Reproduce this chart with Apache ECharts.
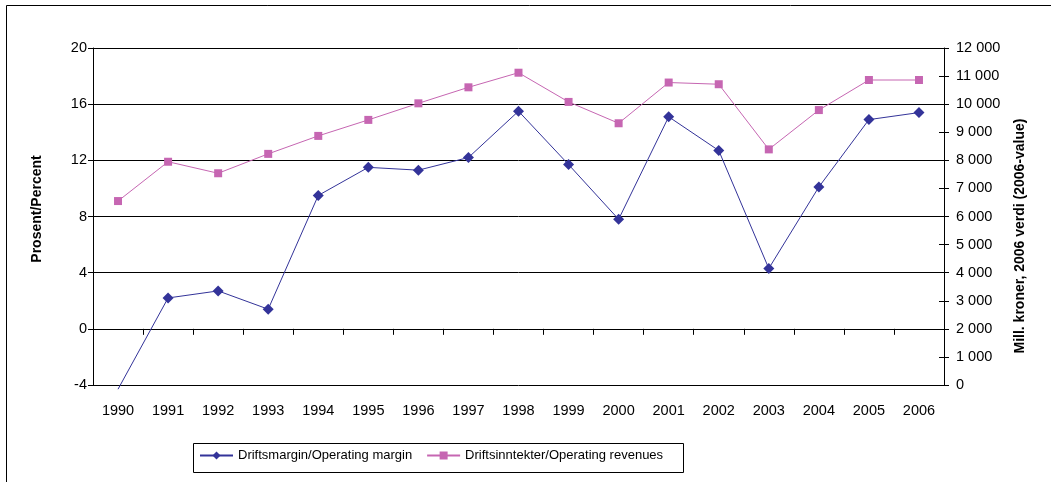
<!DOCTYPE html>
<html>
<head>
<meta charset="utf-8">
<script src="https://cdn.jsdelivr.net/npm/echarts@6/dist/echarts.min.js"></script>
<style>
html,body{margin:0;padding:0;background:#fff;}
#c{width:1051px;height:482px;}
</style>
</head>
<body>
<div id="c"></div>
<script>
var years = ['1990','1991','1992','1993','1994','1995','1996','1997','1998','1999','2000','2001','2002','2003','2004','2005','2006'];
var operatingMargin = [-4.3, 2.2, 2.7, 1.4, 9.5, 11.5, 11.3, 12.2, 15.5, 11.7, 7.8, 15.1, 12.7, 4.3, 10.1, 14.9, 15.4];
var operatingRevenues = [6550, 7950, 7540, 8230, 8870, 9440, 10030, 10600, 11120, 10080, 9320, 10770, 10710, 8390, 9790, 10860, 10860];
var leftTicks = [-4, 0, 4, 8, 12, 16, 20];
var rightTicks = [0, 1000, 2000, 3000, 4000, 5000, 6000, 7000, 8000, 9000, 10000, 11000, 12000];
var seriesNames = ['Driftsmargin/Operating margin', 'Driftsinntekter/Operating revenues'];
var axisNames = ['Prosent/Percent', 'Mill. kroner, 2006 verdi (2006-value)'];

var FONT = '"Liberation Sans", Arial, sans-serif';
var BLUE = '#333399';
var PINK = '#C666B2';
var TICK_FS = 14.5;

function fmtThousands(v) {
  return String(v).replace(/\B(?=(\d{3})+(?!\d))/g, ' ');
}

var marginData = operatingMargin.map(function (v) {
  return v < leftTicks[0] ? { value: v, symbol: 'none' } : v;
});

var chart = echarts.init(document.getElementById('c'), null, { renderer: 'canvas' });
chart.setOption({
  animation: false,
  backgroundColor: '#fff',
  textStyle: { fontFamily: FONT, color: '#000' },
  grid: { left: 93, right: 107, top: 48, bottom: 97, containLabel: false },
  legend: {
    left: 199, top: 449,
    itemWidth: 33, itemHeight: 10, itemGap: 14,
    padding: 0,
    textStyle: { fontFamily: FONT, fontSize: 13, color: '#000' },
    data: seriesNames
  },
  graphic: [
    { type: 'rect', shape: { x: 6.5, y: 5.5, width: 1100, height: 600 }, style: { fill: 'none', stroke: '#000', lineWidth: 1 }, silent: true, z: -1 },
    { type: 'rect', shape: { x: 193.5, y: 443.5, width: 490, height: 29 }, style: { fill: 'none', stroke: '#000', lineWidth: 1 }, silent: true },
    { type: 'text', x: 37, y: 209, rotation: Math.PI / 2, style: { text: axisNames[0], font: 'bold 14px ' + FONT, fill: '#000', align: 'center', verticalAlign: 'middle' } },
    { type: 'text', x: 1020, y: 236, rotation: Math.PI / 2, style: { text: axisNames[1], font: 'bold 14px ' + FONT, fill: '#000', align: 'center', verticalAlign: 'middle' } }
  ],
  xAxis: [
    {
      type: 'category', data: years, position: 'bottom', boundaryGap: true,
      axisLine: { show: false, onZero: false },
      axisTick: { show: false },
      axisLabel: { fontSize: TICK_FS, color: '#000', margin: 18, fontFamily: FONT, interval: 0 },
      splitLine: { show: false }
    },
    {
      type: 'category', data: years, position: 'bottom', boundaryGap: true,
      axisLine: { show: true, onZero: true, onZeroAxisIndex: 0, lineStyle: { color: '#000', width: 1 } },
      axisTick: { show: true, length: 6, interval: 0, lineStyle: { color: '#000' } },
      axisLabel: { show: false },
      splitLine: { show: false }
    }
  ],
  yAxis: [
    {
      type: 'value', position: 'left', min: leftTicks[0], max: leftTicks[leftTicks.length - 1], interval: 4,
      axisLine: { show: true, onZero: false, lineStyle: { color: '#000', width: 1 } },
      axisTick: { show: true, length: 5, lineStyle: { color: '#000' } },
      axisLabel: { fontSize: TICK_FS, color: '#000', margin: 6, fontFamily: FONT },
      splitLine: { show: true, lineStyle: { color: '#000', width: 1 } }
    },
    {
      type: 'value', position: 'right', min: rightTicks[0], max: rightTicks[rightTicks.length - 1], interval: 1000,
      axisLine: { show: true, onZero: false, lineStyle: { color: '#000', width: 1 } },
      axisTick: { show: true, length: 5, lineStyle: { color: '#000' } },
      axisLabel: { fontSize: TICK_FS, color: '#000', margin: 12, fontFamily: FONT, formatter: fmtThousands },
      splitLine: { show: false }
    },
    {
      type: 'value', position: 'right', min: rightTicks[0], max: rightTicks[rightTicks.length - 1], interval: 1000,
      axisLine: { show: false, onZero: false },
      axisTick: { show: true, inside: true, length: 5, lineStyle: { color: '#000' } },
      axisLabel: { show: false },
      splitLine: { show: false }
    }
  ],
  series: [
    {
      name: seriesNames[0], type: 'line', xAxisIndex: 0, yAxisIndex: 0,
      data: marginData, clip: false,
      symbol: 'diamond', symbolSize: 11,
      lineStyle: { color: BLUE, width: 1 },
      itemStyle: { color: BLUE },
      z: 3
    },
    {
      name: seriesNames[1], type: 'line', xAxisIndex: 0, yAxisIndex: 1,
      data: operatingRevenues,
      symbol: 'rect', symbolSize: 8,
      lineStyle: { color: PINK, width: 1 },
      itemStyle: { color: PINK },
      z: 2
    }
  ]
});
</script>
</body>
</html>
